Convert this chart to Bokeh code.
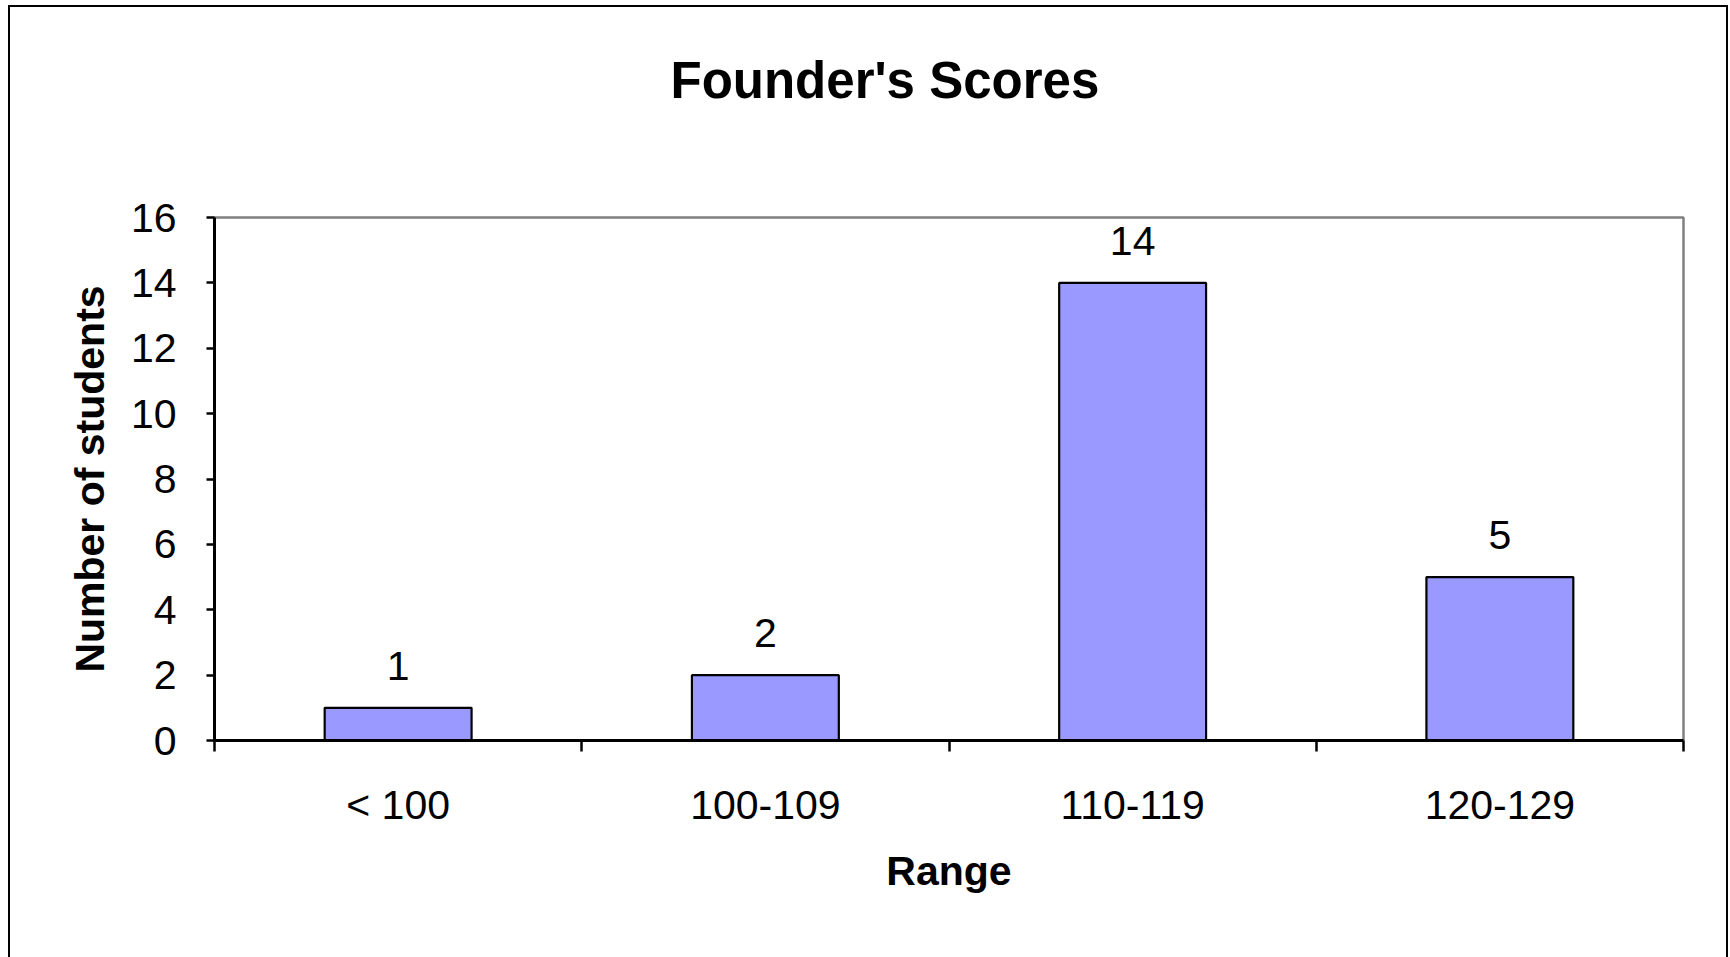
from bokeh.plotting import figure
from bokeh.models import Range1d, FixedTicker, ColumnDataSource, Title
from bokeh.core.properties import value
from bokeh.embed import file_html
from bokeh.resources import INLINE

title_text = "Founder's Scores"
categories = ["< 100", "100-109", "110-119", "120-129"]
students = [1, 2, 14, 5]
y_ticks = [0, 2, 4, 6, 8, 10, 12, 14, 16]

FONT = "Liberation Sans"
FS = "41px"

xs = [i + 0.5 for i in range(len(categories))]
src = ColumnDataSource(dict(x=xs, top=students, lab=[str(v) for v in students]))

p = figure(width=1720, height=952, output_backend="svg", toolbar_location=None,
           x_range=Range1d(0, len(categories)), y_range=Range1d(0, 16),
           min_border_left=204, min_border_right=47, min_border_top=210, min_border_bottom=219,
           title=title_text)
p.styles = {"border-left": "2px solid black", "border-top": "2px solid black",
            "border-right": "2px solid black", "margin-left": "8px", "margin-top": "5px"}
p.background_fill_color = "white"
p.border_fill_color = "white"
p.outline_line_color = "#808080"
p.outline_line_width = 2.5
p.xgrid.visible = False
p.ygrid.visible = False

# visible chart title (outermost panel above the plot)
p.title.align = "left"
p.title.offset = 456
p.title.standoff = 0
p.title.text_font = FONT
p.title.text_font_size = "51px"
p.title.text_font_style = "bold"
p.title.text_color = "black"

# blank spacer panel between the plot frame and the title
spacer = Title(text=" ", text_font=FONT, text_font_size="10px", text_color="white",
               standoff=96)
p.add_layout(spacer, "above")

p.vbar(x="x", top="top", width=0.4, bottom=0, source=src,
       fill_color="#9999FF", line_color="black", line_width=2.2)
p.text(x="x", y="top", text="lab", source=src, text_align="center", text_baseline="alphabetic",
       y_offset=-42, text_font=value(FONT), text_font_size=FS, text_color="black")

xa = p.xaxis[0]
xa.ticker = FixedTicker(ticks=xs, minor_ticks=list(range(len(categories) + 1)))
xa.major_label_overrides = {x: c for x, c in zip(xs, categories)}
xa.major_tick_line_color = None
xa.major_tick_out = 0
xa.major_tick_in = 0
xa.minor_tick_line_color = "black"
xa.minor_tick_line_width = 2.5
xa.minor_tick_out = 11
xa.minor_tick_in = 0
xa.axis_line_color = "black"
xa.axis_line_width = 3
xa.major_label_text_font = FONT
xa.major_label_text_font_size = FS
xa.major_label_text_color = "black"
xa.major_label_standoff = 30
xa.axis_label = "Range"
xa.axis_label_text_font = FONT
xa.axis_label_text_font_size = FS
xa.axis_label_text_font_style = "bold"
xa.axis_label_text_color = "black"
xa.axis_label_standoff = 17

ya = p.yaxis[0]
ya.ticker = FixedTicker(ticks=y_ticks, minor_ticks=[])
ya.major_tick_line_color = "black"
ya.major_tick_line_width = 2.5
ya.major_tick_out = 8
ya.major_tick_in = 0
ya.minor_tick_line_color = None
ya.axis_line_color = "black"
ya.axis_line_width = 3
ya.major_label_text_font = FONT
ya.major_label_text_font_size = FS
ya.major_label_text_color = "black"
ya.major_label_standoff = 30
ya.axis_label = "Number of students"
ya.axis_label_text_font = FONT
ya.axis_label_text_font_size = FS
ya.axis_label_text_font_style = "bold"
ya.axis_label_text_color = "black"
ya.axis_label_standoff = 15

open("out.html", "w").write(file_html(p, INLINE))
